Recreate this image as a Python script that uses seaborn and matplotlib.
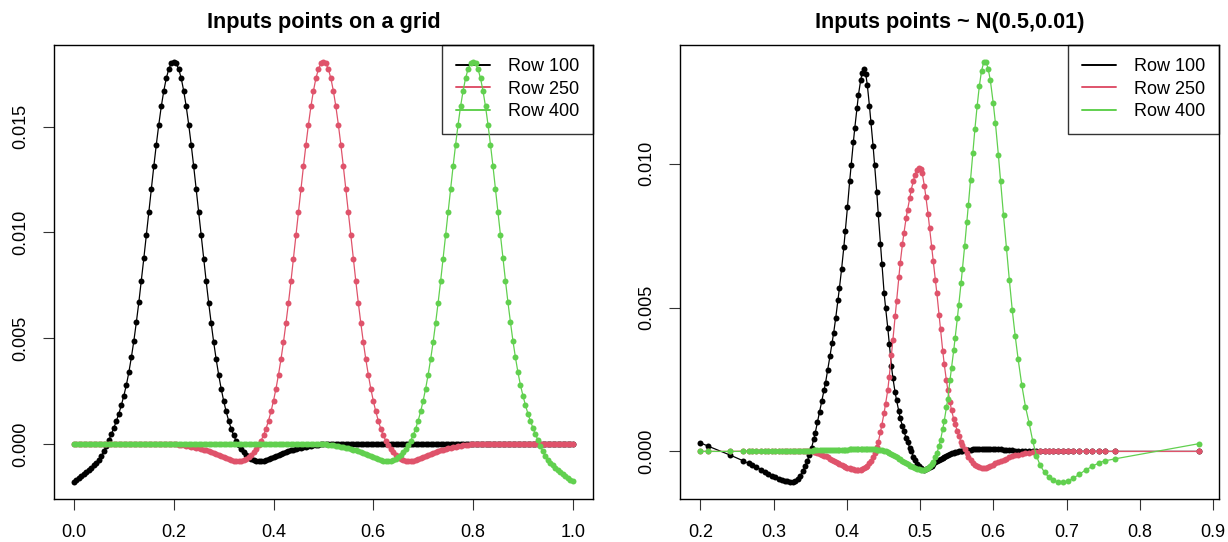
import numpy as np
import pandas as pd
import matplotlib
matplotlib.use("Agg")
import matplotlib.pyplot as plt
import seaborn as sns
from matplotlib.lines import Line2D

# ---- data (row values in units of 1e-4) ----
rows = ["Row 100", "Row 250", "Row 400"]
colors = ["#000000", "#DF536B", "#61D04F"]
titles = ["Inputs points on a grid", "Inputs points ~ N(0.5,0.01)"]

# left panel: 201 inputs on a regular grid
grid_x = np.linspace(0.0, 1.0, 201)

row100_grid = [
    -17.9, -16.8, -15.9, -14.9, -14.0, -13.1, -12.1, -11.1, -10.0, -8.8,
    -7.3, -5.5, -3.3, -0.8, 2.0, 4.8, 7.8, 11.0, 14.5, 18.5,
    23.0, 28.0, 34.0, 41.0, 48.8, 57.6, 67.0, 77.2, 87.8, 98.7,
    109.6, 120.5, 131.2, 141.4, 150.9, 159.5, 166.8, 172.8, 177.1, 179.8,
    180.7, 179.8, 177.1, 172.8, 166.8, 159.5, 150.9, 141.4, 131.2, 120.5,
    109.6, 98.7, 87.7, 77.0, 66.8, 57.3, 48.3, 40.2, 32.9, 26.3,
    20.6, 15.5, 11.2, 7.4, 4.3, 1.7, -0.5, -2.3, -3.8, -5.0,
    -6.0, -6.8, -7.4, -7.8, -8.0, -8.0, -7.8, -7.4, -6.9, -6.4,
    -5.9, -5.4, -4.9, -4.45, -4.0, -3.6, -3.2, -2.85, -2.5, -2.2,
    -1.9, -1.65, -1.4, -1.15, -0.9, -0.7, -0.5, -0.35, -0.2, -0.1,
    0.0, 0.1, 0.2, 0.25, 0.3, 0.3, 0.3, 0.3, 0.3, 0.3,
    0.3, 0.3, 0.3, 0.3, 0.3, 0.3, 0.3, 0.3, 0.3, 0.3,
    0.3, 0.3, 0.3, 0.3, 0.3, 0.3, 0.3, 0.3, 0.3, 0.3,
    0.3, 0.25, 0.25, 0.2, 0.2, 0.2, 0.15, 0.15, 0.1, 0.1,
    0.1, 0.1, 0.1, 0.1, 0.1, 0.1, 0.1, 0.1, 0.1, 0.1,
    0.05, 0.05, 0.05, 0.05, 0.05, 0.05, 0.05, 0.05, 0.05, 0.05,
    0.0, 0.0, 0.0, 0.0, 0.0, 0.0, 0.0, 0.0, 0.0, 0.0,
    0.0, 0.0, 0.0, 0.0, 0.0, 0.0, 0.0, 0.0, 0.0, 0.0,
    0.0, 0.0, 0.0, 0.0, 0.0, 0.0, 0.0, 0.0, 0.0, 0.0,
    0.0, 0.0, 0.0, 0.0, 0.0, 0.0, 0.0, 0.0, 0.0, 0.0,
    0.0,
]

row250_grid = [
    0.0, 0.0, 0.0, 0.0, 0.0, 0.05, 0.05, 0.05, 0.05, 0.05,
    0.1, 0.1, 0.1, 0.1, 0.1, 0.15, 0.15, 0.15, 0.15, 0.2,
    0.2, 0.2, 0.2, 0.2, 0.25, 0.25, 0.25, 0.25, 0.25, 0.3,
    0.3, 0.3, 0.3, 0.3, 0.3, 0.3, 0.3, 0.25, 0.2, 0.1,
    0.0, -0.1, -0.2, -0.35, -0.5, -0.7, -0.9, -1.15, -1.4, -1.65,
    -1.9, -2.2, -2.5, -2.85, -3.2, -3.6, -4.0, -4.45, -4.9, -5.4,
    -5.9, -6.4, -6.9, -7.4, -7.8, -8.0, -8.0, -7.8, -7.4, -6.8,
    -6.0, -5.0, -3.8, -2.3, -0.5, 1.7, 4.3, 7.4, 11.2, 15.5,
    20.6, 26.3, 32.9, 40.2, 48.3, 57.3, 66.8, 77.0, 87.7, 98.7,
    109.6, 120.5, 131.2, 141.4, 150.9, 159.5, 166.8, 172.8, 177.1, 179.8,
    180.7, 179.8, 177.1, 172.8, 166.8, 159.5, 150.9, 141.4, 131.2, 120.5,
    109.6, 98.7, 87.7, 77.0, 66.8, 57.3, 48.3, 40.2, 32.9, 26.3,
    20.6, 15.5, 11.2, 7.4, 4.3, 1.7, -0.5, -2.3, -3.8, -5.0,
    -6.0, -6.8, -7.4, -7.8, -8.0, -8.0, -7.8, -7.4, -6.9, -6.4,
    -5.9, -5.4, -4.9, -4.45, -4.0, -3.6, -3.2, -2.85, -2.5, -2.2,
    -1.9, -1.65, -1.4, -1.15, -0.9, -0.7, -0.5, -0.35, -0.2, -0.1,
    0.0, 0.1, 0.2, 0.25, 0.3, 0.3, 0.3, 0.3, 0.3, 0.3,
    0.3, 0.25, 0.25, 0.25, 0.25, 0.25, 0.2, 0.2, 0.2, 0.2,
    0.15, 0.15, 0.15, 0.15, 0.1, 0.1, 0.1, 0.1, 0.1, 0.05,
    0.05, 0.05, 0.05, 0.05, 0.0, 0.0, 0.0, 0.0, 0.0, 0.0,
    0.0,
]

row400_grid = [
    0.0, 0.0, 0.0, 0.0, 0.0, 0.0, 0.0, 0.0, 0.0, 0.0,
    0.0, 0.0, 0.0, 0.0, 0.0, 0.0, 0.0, 0.0, 0.0, 0.0,
    0.0, 0.0, 0.0, 0.0, 0.0, 0.0, 0.0, 0.0, 0.0, 0.0,
    0.0, 0.0, 0.0, 0.0, 0.0, 0.0, 0.0, 0.0, 0.0, 0.0,
    0.0, 0.0, 0.0, 0.0, 0.0, 0.0, 0.0, 0.0, 0.0, 0.0,
    0.0, 0.0, 0.0, 0.0, 0.0, 0.0, 0.0, 0.0, 0.0, 0.0,
    0.0, 0.0, 0.0, 0.0, 0.0, 0.0, 0.05, 0.05, 0.05, 0.05,
    0.05, 0.1, 0.1, 0.1, 0.1, 0.1, 0.15, 0.15, 0.15, 0.15,
    0.2, 0.2, 0.2, 0.2, 0.25, 0.25, 0.25, 0.25, 0.25, 0.3,
    0.3, 0.3, 0.3, 0.3, 0.3, 0.3, 0.3, 0.25, 0.2, 0.1,
    0.0, -0.1, -0.2, -0.35, -0.5, -0.7, -0.9, -1.15, -1.4, -1.65,
    -1.9, -2.2, -2.5, -2.85, -3.2, -3.6, -4.0, -4.45, -4.9, -5.4,
    -5.9, -6.4, -6.9, -7.4, -7.8, -8.0, -8.0, -7.8, -7.4, -6.8,
    -6.0, -5.0, -3.8, -2.3, -0.5, 1.7, 4.3, 7.4, 11.2, 15.5,
    20.6, 26.3, 32.9, 40.2, 48.3, 57.3, 66.8, 77.0, 87.7, 98.7,
    109.6, 120.5, 131.2, 141.4, 150.9, 159.5, 166.8, 172.8, 177.1, 179.8,
    180.7, 179.8, 177.1, 172.8, 166.8, 159.5, 150.9, 141.4, 131.2, 120.5,
    109.6, 98.7, 87.8, 77.2, 67.0, 57.6, 48.8, 41.0, 34.0, 28.0,
    23.0, 18.5, 14.5, 11.0, 7.8, 4.8, 2.0, -0.8, -3.3, -5.5,
    -7.3, -8.8, -10.0, -11.1, -12.1, -13.1, -14.0, -14.9, -15.9, -16.8,
    -17.5,
]

# right panel: sorted inputs drawn from N(0.5, 0.01)
norm_x = [
    0.200, 0.211, 0.241, 0.258, 0.266, 0.271, 0.276, 0.283, 0.288, 0.293,
    0.298, 0.302, 0.307, 0.311, 0.316, 0.319, 0.322, 0.326, 0.329, 0.333,
    0.336, 0.340, 0.343, 0.346, 0.349, 0.352, 0.355, 0.357, 0.360, 0.363,
    0.366, 0.369, 0.371, 0.374, 0.377, 0.380, 0.382, 0.385, 0.388, 0.390,
    0.393, 0.396, 0.398, 0.401, 0.404, 0.406, 0.409, 0.411, 0.414, 0.416,
    0.419, 0.421, 0.423, 0.426, 0.428, 0.431, 0.433, 0.436, 0.438, 0.441,
    0.443, 0.446, 0.448, 0.451, 0.453, 0.456, 0.458, 0.461, 0.463, 0.466,
    0.468, 0.471, 0.473, 0.476, 0.478, 0.481, 0.483, 0.486, 0.488, 0.491,
    0.493, 0.496, 0.498, 0.501, 0.503, 0.506, 0.508, 0.511, 0.513, 0.516,
    0.518, 0.521, 0.523, 0.526, 0.528, 0.531, 0.533, 0.536, 0.538, 0.541,
    0.543, 0.546, 0.548, 0.551, 0.553, 0.556, 0.558, 0.561, 0.564, 0.566,
    0.569, 0.572, 0.575, 0.578, 0.581, 0.584, 0.587, 0.590, 0.593, 0.596,
    0.600, 0.603, 0.607, 0.610, 0.614, 0.618, 0.622, 0.626, 0.630, 0.634,
    0.639, 0.644, 0.649, 0.654, 0.659, 0.664, 0.670, 0.676, 0.682, 0.688,
    0.695, 0.702, 0.709, 0.717, 0.726, 0.735, 0.745, 0.752, 0.766, 0.881,
]

row100_norm = [
    3.0, 1.8, -1.3, -3.2, -4.2, -4.8, -5.4, -6.3, -7.0, -7.8,
    -8.5, -9.0, -9.5, -9.9, -10.2, -10.4, -10.5, -10.6, -10.4, -9.6,
    -8.6, -6.9, -5.2, -3.4, -1.3, 1.3, 4.3, 6.5, 10.2, 13.8,
    17.5, 21.2, 23.8, 28.3, 33.0, 37.7, 41.0, 46.5, 52.5, 56.8,
    63.5, 71.0, 76.5, 85.0, 94.0, 99.5, 107.5, 112.5, 119.5, 124.0,
    129.0, 131.5, 133.0, 131.0, 127.5, 120.0, 114.5, 106.0, 99.5, 90.0,
    82.5, 72.0, 65.0, 55.0, 50.0, 42.9, 37.5, 29.7, 25.5, 20.5,
    17.8, 14.0, 11.5, 8.8, 7.0, 4.7, 3.2, 1.3, 0.0, -1.8,
    -2.9, -4.3, -5.0, -5.8, -6.1, -6.3, -6.2, -5.9, -5.5, -4.9,
    -4.5, -3.8, -3.4, -2.9, -2.6, -2.2, -1.9, -1.5, -1.2, -0.9,
    -0.7, -0.5, -0.3, -0.1, 0.0, 0.2, 0.3, 0.4, 0.5, 0.6,
    0.6, 0.7, 0.7, 0.8, 0.8, 0.8, 0.8, 0.8, 0.8, 0.8,
    0.8, 0.8, 0.7, 0.7, 0.6, 0.5, 0.5, 0.4, 0.3, 0.2,
    0.1, 0.1, 0.0, 0.0, 0.0, 0.0, 0.0, 0.0, 0.0, 0.0,
    0.0, 0.0, 0.0, 0.0, 0.0, 0.0, 0.0, 0.0, 0.0, 0.0,
]

row250_norm = [
    0.0, 0.0, 0.0, 0.1, 0.2, 0.2, 0.2, 0.3, 0.3, 0.3,
    0.3, 0.3, 0.3, 0.3, 0.3, 0.3, 0.3, 0.3, 0.3, 0.3,
    0.3, 0.3, 0.2, 0.2, 0.1, 0.0, -0.1, -0.3, -0.6, -0.9,
    -1.2, -1.5, -1.7, -2.1, -2.6, -3.0, -3.3, -3.7, -4.1, -4.4,
    -4.8, -5.1, -5.3, -5.7, -5.9, -6.1, -6.2, -6.3, -6.4, -6.4,
    -6.3, -6.1, -5.9, -5.4, -4.9, -4.0, -3.2, -1.8, -0.7, 1.4,
    3.3, 6.7, 9.3, 13.4, 16.5, 21.3, 26.0, 33.5, 38.8, 46.9,
    52.3, 60.5, 65.5, 72.0, 75.8, 81.0, 84.0, 88.0, 91.0, 94.0,
    96.0, 97.8, 98.4, 98.0, 96.8, 92.2, 88.5, 82.5, 77.8, 71.0,
    66.3, 59.6, 55.0, 47.5, 42.5, 35.0, 30.5, 24.7, 21.3, 17.0,
    14.3, 11.3, 9.5, 7.0, 5.5, 3.3, 2.2, 0.8, -0.6, -1.8,
    -2.9, -3.9, -4.6, -5.1, -5.5, -5.8, -5.8, -5.6, -5.3, -5.0,
    -4.6, -4.2, -3.8, -3.4, -2.9, -2.5, -2.1, -1.7, -1.4, -1.1,
    -0.8, -0.6, -0.4, -0.2, -0.1, 0.0, 0.0, 0.0, 0.0, 0.0,
    0.0, 0.0, 0.0, 0.0, 0.0, 0.0, 0.0, 0.0, 0.0, 0.0,
]

row400_norm = [
    0.0, 0.0, 0.0, 0.0, 0.0, 0.1, 0.1, 0.1, 0.1, 0.1,
    0.1, 0.1, 0.1, 0.2, 0.2, 0.2, 0.2, 0.2, 0.2, 0.3,
    0.3, 0.3, 0.3, 0.3, 0.3, 0.3, 0.4, 0.4, 0.4, 0.4,
    0.4, 0.4, 0.5, 0.5, 0.5, 0.5, 0.5, 0.5, 0.6, 0.6,
    0.6, 0.6, 0.6, 0.6, 0.7, 0.7, 0.7, 0.7, 0.7, 0.7,
    0.8, 0.8, 0.8, 0.8, 0.8, 0.8, 0.8, 0.7, 0.7, 0.6,
    0.6, 0.5, 0.4, 0.3, 0.1, -0.1, -0.4, -0.8, -1.1, -1.6,
    -1.9, -2.5, -2.8, -3.3, -3.7, -4.2, -4.5, -4.9, -5.2, -5.5,
    -5.8, -6.0, -6.2, -6.3, -6.4, -6.3, -6.1, -5.7, -5.1, -4.3,
    -3.6, -2.0, -0.7, 1.9, 3.9, 7.7, 10.5, 15.3, 18.3, 24.9,
    28.9, 35.1, 39.5, 46.3, 51.0, 58.4, 63.5, 71.5, 79.8, 85.6,
    94.5, 103.6, 112.2, 120.0, 127.0, 132.3, 135.2, 135.5, 133.0, 129.0,
    121.0, 114.0, 103.0, 94.0, 82.0, 70.8, 59.5, 49.0, 40.0, 32.0,
    23.0, 15.5, 9.8, 3.5, -1.6, -4.8, -7.3, -9.0, -10.1, -10.6,
    -10.7, -10.3, -9.4, -8.0, -6.5, -5.2, -3.9, -3.3, -2.6, 2.7,
]

grid_xticks = [0.0, 0.2, 0.4, 0.6, 0.8, 1.0]
grid_xlabels = ["0.0", "0.2", "0.4", "0.6", "0.8", "1.0"]
grid_yticks = [0.0, 0.005, 0.010, 0.015]
grid_ylabels = ["0.000", "0.005", "0.010", "0.015"]
norm_xticks = [0.2, 0.3, 0.4, 0.5, 0.6, 0.7, 0.8, 0.9]
norm_xlabels = ["0.2", "0.3", "0.4", "0.5", "0.6", "0.7", "0.8", "0.9"]
norm_yticks = [0.0, 0.005, 0.010]
norm_ylabels = ["0.000", "0.005", "0.010"]


def long_frame(x, series):
    parts = []
    for name, vals in zip(rows, series):
        assert len(vals) == len(x), (name, len(vals), len(x))
        parts.append(pd.DataFrame({"x": np.asarray(x, dtype=float),
                                   "value": np.asarray(vals) * 1e-4,
                                   "row": name}))
    return pd.concat(parts, ignore_index=True)


def r_lim(v):
    # R's default 4% axis expansion
    lo, hi = np.min(v), np.max(v)
    pad = 0.04 * (hi - lo)
    return lo - pad, hi + pad


grid_df = long_frame(grid_x, [row100_grid, row250_grid, row400_grid])
norm_df = long_frame(norm_x, [row100_norm, row250_norm, row400_norm])

sns.set_style("white")
plt.rcParams["font.family"] = ["Liberation Sans", "DejaVu Sans"]
plt.rcParams["text.color"] = "black"
plt.rcParams["xtick.color"] = "black"
plt.rcParams["ytick.color"] = "black"
plt.rcParams["xtick.labelcolor"] = "black"
plt.rcParams["ytick.labelcolor"] = "black"

fig = plt.figure(figsize=(12.28, 5.42), dpi=100, facecolor="white")
ax1 = fig.add_axes([0.0440, 0.0793, 0.4387, 0.8382])
ax2 = fig.add_axes([0.5540, 0.0793, 0.4387, 0.8382])

panels = [
    (ax1, grid_df, grid_xticks, grid_xlabels, grid_yticks, grid_ylabels, titles[0]),
    (ax2, norm_df, norm_xticks, norm_xlabels, norm_yticks, norm_ylabels, titles[1]),
]

for ax, df, xt, xl, yt, yl, title in panels:
    handles = [Line2D([], [], color=c, lw=1.4) for c in colors]
    leg = ax.legend(handles, rows, loc="upper right", bbox_to_anchor=(1, 1),
                    borderaxespad=0, frameon=True, fancybox=False,
                    edgecolor="black", fontsize=13, handlelength=1.9,
                    handletextpad=1.0, borderpad=0.75, labelspacing=0.3)
    leg.get_frame().set_linewidth(1.0)
    leg.get_frame().set_facecolor("none")
    leg.set_zorder(1)

    sns.lineplot(data=df, x="x", y="value", hue="row", hue_order=rows,
                 palette=colors, marker="o", markersize=4.3,
                 markeredgewidth=0, linewidth=0.9, estimator=None,
                 sort=False, legend=False, ax=ax, zorder=3)
    ax.set_xlim(*r_lim(df["x"]))
    ax.set_ylim(*r_lim(df["value"]))
    ax.set_xticks(xt)
    ax.set_xticklabels(xl)
    ax.set_yticks(yt)
    ax.set_yticklabels(yl, rotation=90, va="center")
    ax.set_xlabel("")
    ax.set_ylabel("")
    ax.tick_params(direction="out", length=8, width=0.8, color="#333333",
                   labelsize=13, pad=10, bottom=True, left=True,
                   labelcolor="black")
    for s in ax.spines.values():
        s.set_visible(True)
        s.set_color("black")
        s.set_linewidth(1.0)
    ax.set_title(title, fontsize=15.6, fontweight="bold", pad=12, color="black")

fig.savefig("out.png", dpi=100, facecolor="white")
